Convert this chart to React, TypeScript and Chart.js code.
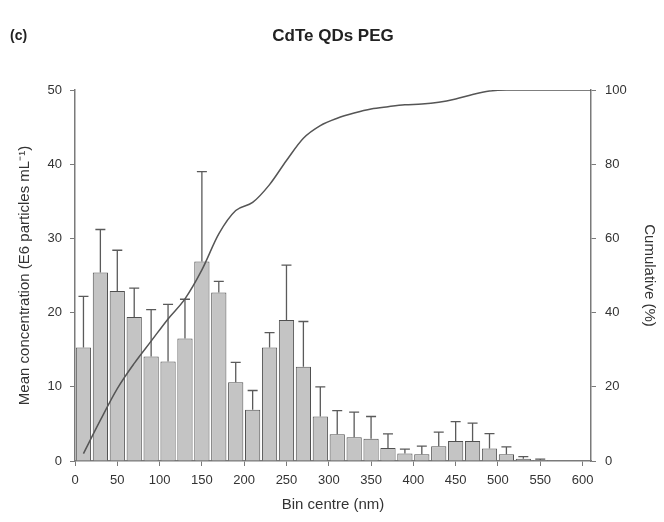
import React, { useEffect, useRef } from 'react';
import { Chart, registerables } from 'chart.js';

Chart.register(...registerables);

// Bin centres (nm)
const binCentres = [10, 30, 50, 70, 90, 110, 130, 150, 170, 190, 210, 230, 250, 270, 290, 310, 330, 350, 370, 390, 410, 430, 450, 470, 490, 510, 530, 550, 570, 590];
// Mean concentration (E6 particles mL-1)
const meanConc = [15.3, 25.4, 22.9, 19.4, 14.1, 13.4, 16.5, 26.9, 22.7, 10.6, 6.9, 15.3, 19.0, 12.7, 6.0, 3.6, 3.2, 3.0, 1.75, 1.0, 0.9, 2.0, 2.7, 2.7, 1.7, 0.9, 0.3, 0.15, 0, 0];
// Upper error (SD)
const sdConc = [6.9, 5.8, 5.5, 3.9, 6.3, 7.7, 5.3, 12.1, 1.5, 2.7, 2.6, 2.0, 7.4, 6.1, 4.0, 3.2, 3.4, 3.0, 1.9, 0.6, 1.1, 1.9, 2.6, 2.4, 2.0, 1.0, 0.3, 0.1, 0, 0];
// Cumulative curve
const cumX = [10, 30, 50, 70, 90, 110, 130, 150, 170, 190, 210, 230, 250, 270, 290, 310, 330, 350, 370, 390, 410, 430, 450, 470, 490, 510, 530, 550, 570, 590, 610];
const cumPct = [2, 11, 19.5, 26.3, 32.3, 38.3, 43.7, 51.5, 61.2, 67.5, 69.7, 74.5, 81, 87, 90.4, 92.4, 93.8, 94.9, 95.5, 96, 96.2, 96.7, 97.6, 98.8, 99.7, 100, 100, 100, 100, 100, 100];

const xTicks = [0, 50, 100, 150, 200, 250, 300, 350, 400, 450, 500, 550, 600];
const yTicks = [0, 10, 20, 30, 40, 50];
const y1Ticks = [0, 20, 40, 60, 80, 100];

const FONT = '"Liberation Sans", Arial, Helvetica, sans-serif';
const AXIS = '#7a7a7a';
const TEXT = '#333333';

const errorBars = {
  id: 'errorBars',
  afterDatasetDraw(chart: any, args: any) {
    if (args.index !== 0) return;
    const meta = chart.getDatasetMeta(0);
    const y = chart.scales.y;
    const ctx = chart.ctx;
    ctx.save();
    ctx.strokeStyle = '#5a5a5a';
    ctx.lineWidth = 1.3;
    meta.data.forEach((el: any, i: number) => {
      const sd = sdConc[i];
      if (!sd) return;
      const top = y.getPixelForValue(meanConc[i] + sd);
      const x = el.x;
      ctx.beginPath();
      ctx.moveTo(x, el.y);
      ctx.lineTo(x, top);
      ctx.moveTo(x - 5, top);
      ctx.lineTo(x + 5, top);
      ctx.stroke();
    });
    ctx.restore();
  },
};

const titles = {
  id: 'titles',
  afterDraw(chart: any) {
    const ctx = chart.ctx;
    const a = chart.chartArea;
    ctx.save();
    ctx.fillStyle = '#222';
    ctx.textBaseline = 'middle';
    ctx.font = `bold 17px ${FONT}`;
    ctx.textAlign = 'center';
    ctx.fillText('CdTe QDs PEG', (a.left + a.right) / 2, 36);
    ctx.font = `bold 14px ${FONT}`;
    ctx.textAlign = 'left';
    ctx.fillText('(c)', 10, 36);
    ctx.restore();
  },
};

export default function App() {
  const ref = useRef<HTMLCanvasElement | null>(null);
  useEffect(() => {
    if (!ref.current) return;
    const chart = new Chart(ref.current, {
      type: 'bar',
      data: {
        datasets: [
          {
            type: 'bar',
            data: binCentres.map((x, i) => ({ x, y: meanConc[i] })),
            backgroundColor: '#c4c4c4',
            borderColor: '#505050',
            borderWidth: 1,
            barPercentage: 0.9,
            categoryPercentage: 1,
            yAxisID: 'y',
            order: 1,
          } as any,
          {
            type: 'line',
            data: cumX.map((x, i) => ({ x, y: cumPct[i] })),
            borderColor: '#555555',
            borderWidth: 1.5,
            pointRadius: 0,
            cubicInterpolationMode: 'monotone',
            yAxisID: 'y1',
            order: 0,
          } as any,
        ],
      },
      options: {
        animation: false,
        responsive: false,
        layout: { padding: { top: 90, left: 0, right: 0, bottom: 0 } },
        plugins: { legend: { display: false }, tooltip: { enabled: false } },
        scales: {
          x: {
            type: 'linear',
            min: 0,
            max: 610,
            offset: false,
            afterFit: (s: any) => { s.height = 61; },
            afterBuildTicks: (s: any) => { s.ticks = xTicks.map((v) => ({ value: v })); },
            grid: { drawOnChartArea: false, drawTicks: true, tickLength: 5, color: AXIS, offset: false },
            border: { display: true, color: AXIS, width: 1.5 },
            ticks: { color: TEXT, font: { family: FONT, size: 13 }, padding: 7, maxRotation: 0 },
            title: { display: true, text: 'Bin centre (nm)', color: TEXT, font: { family: FONT, size: 15 }, padding: { top: 0, bottom: 8 } },
          },
          y: {
            type: 'linear',
            position: 'left',
            min: 0,
            max: 50,
            afterFit: (s: any) => { s.width = 75; },
            afterBuildTicks: (s: any) => { s.ticks = yTicks.map((v) => ({ value: v })); },
            grid: { drawOnChartArea: false, drawTicks: true, tickLength: 5, color: AXIS },
            border: { display: true, color: AXIS, width: 1.5 },
            ticks: { color: TEXT, font: { family: FONT, size: 13 }, padding: 8 },
            title: { display: true, text: 'Mean concentration (E6 particles mL⁻¹)', color: TEXT, font: { family: FONT, size: 15 }, padding: { top: 16, bottom: 0 } },
          },
          y1: {
            type: 'linear',
            position: 'right',
            min: 0,
            max: 100,
            afterFit: (s: any) => { s.width = 73; },
            afterBuildTicks: (s: any) => { s.ticks = y1Ticks.map((v) => ({ value: v })); },
            grid: { drawOnChartArea: false, drawTicks: true, tickLength: 5, color: AXIS },
            border: { display: true, color: AXIS, width: 1.5 },
            ticks: { color: TEXT, font: { family: FONT, size: 13 }, padding: 9 },
            title: { display: true, text: 'Cumulative (%)', color: TEXT, font: { family: FONT, size: 15 }, padding: { top: 6, bottom: 0 } },
          },
        },
      } as any,
      plugins: [errorBars, titles],
    });
    return () => chart.destroy();
  }, []);
  return (
    <div style={{ position: 'fixed', left: 0, top: 0, width: 664, height: 522, background: '#fff' }}>
      <canvas ref={ref} width={664} height={522} />
    </div>
  );
}
